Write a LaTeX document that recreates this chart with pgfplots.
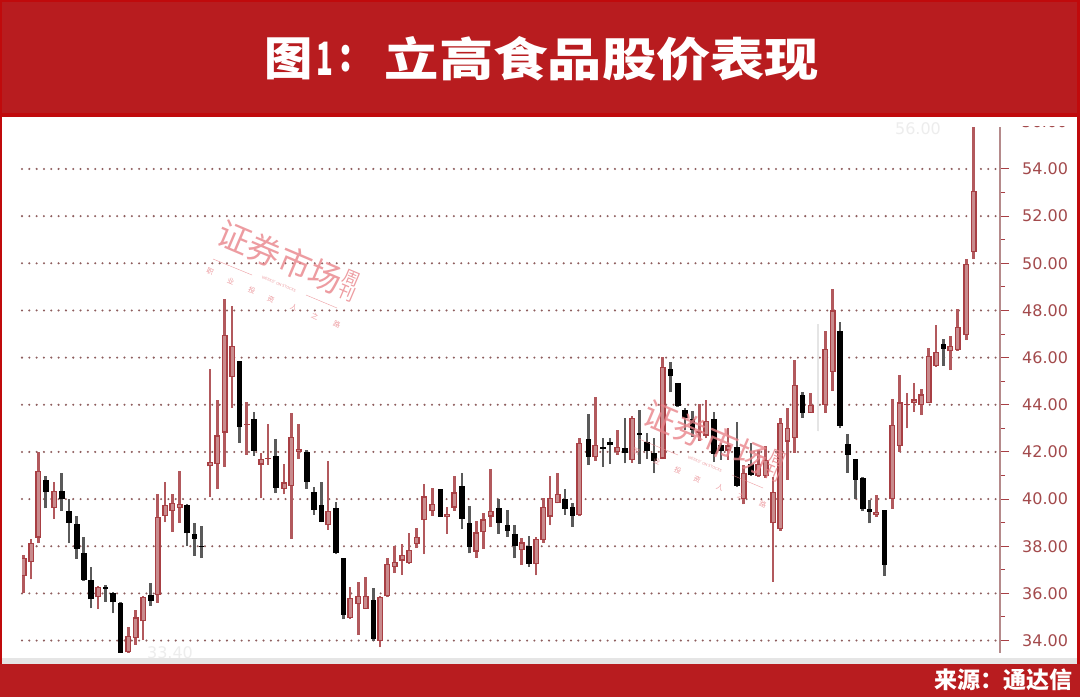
\documentclass[border=0pt]{standalone}
\usepackage{fontspec}
\usepackage{pgfplots}
\usepackage{pgfplotstable}
\pgfplotsset{compat=1.18}
\setmainfont{DejaVu Sans}
\newfontfamily\cjk{Noto Sans CJK SC}
\newfontfamily\cjkblack{Noto Sans CJK SC Black}

\definecolor{band}{HTML}{B81C1F}
\definecolor{bandedge}{HTML}{C00A0C}
\definecolor{upedge}{HTML}{A83F44}
\definecolor{upfill}{HTML}{C98B8D}
\definecolor{upwick}{HTML}{B2595D}
\definecolor{downwick}{HTML}{5A5A5A}
\definecolor{griddot}{HTML}{8E5E5E}
\definecolor{axisline}{HTML}{B58A8B}
\definecolor{ticktext}{HTML}{A34A4C}
\definecolor{stamp}{HTML}{E9848A}

% x is the horizontal position of the candle in reference pixels
\pgfplotstableread{
x open high low close
23.7 36.75 37.63 36.00 37.52
31.0 37.33 38.30 36.60 38.15
38.3 38.37 42.00 38.13 41.18
54.0 39.62 40.73 39.17 40.33
98.0 35.83 36.33 35.33 36.28
128.3 33.50 34.59 33.49 34.21
135.7 34.10 35.30 33.82 34.98
143.0 34.81 35.87 34.03 35.84
157.7 35.94 40.20 35.61 39.24
165.0 39.29 40.73 39.02 39.74
172.3 39.50 40.20 38.62 39.85
179.7 39.62 41.18 39.00 39.80
210.0 41.39 45.50 40.10 41.56
217.3 41.50 44.20 40.42 42.70
224.7 42.82 48.47 41.38 46.96
232.0 45.18 48.20 43.88 46.48
246.7 43.16 44.10 41.89 43.20
261.0 41.46 41.97 40.03 41.69
268.0 41.72 43.17 41.45 41.75
284.0 40.43 41.49 40.20 40.71
291.3 40.56 43.67 38.31 42.65
298.7 41.99 43.19 41.70 42.13
328.0 38.90 41.62 38.69 39.51
350.0 34.95 36.26 34.93 35.80
358.3 35.55 36.47 34.24 35.89
365.7 35.34 36.69 35.33 35.89
380.0 33.99 35.87 33.72 35.85
387.3 35.87 37.49 35.84 37.24
394.7 37.11 38.01 36.86 37.35
402.0 37.39 38.08 36.80 37.62
409.0 37.28 38.58 37.25 37.84
416.7 38.10 38.79 37.92 38.38
424.0 39.12 40.63 37.67 40.11
432.3 39.48 40.49 39.29 39.80
447.0 39.26 39.68 38.52 39.37
454.3 39.64 41.00 39.51 40.28
476.3 37.77 39.07 37.51 38.59
483.3 38.59 39.43 37.89 39.14
490.7 39.26 41.28 38.81 39.51
521.7 37.84 38.34 37.21 38.16
536.0 37.24 38.38 36.76 38.30
543.3 38.27 40.04 38.13 39.68
550.0 39.26 41.00 38.90 40.06
557.7 39.82 41.12 39.82 40.22
579.3 39.33 42.58 39.30 42.40
595.3 41.77 44.32 41.63 42.31
617.3 42.01 42.93 41.87 42.23
632.0 41.66 43.53 41.55 43.43
662.7 41.72 46.01 41.69 45.62
699.3 42.82 44.04 42.47 42.88
706.0 42.69 44.20 42.58 43.30
728.0 42.06 43.00 41.66 42.28
743.7 40.00 41.45 39.78 41.10
758.3 40.98 42.08 40.93 41.49
765.7 40.98 42.25 40.91 41.66
773.0 38.98 40.95 36.50 40.32
780.3 38.72 43.43 38.65 43.24
787.5 42.44 43.88 40.81 43.02
794.7 42.57 45.89 41.96 44.83
810.7 43.66 44.48 43.66 44.01
825.3 43.99 47.12 43.66 46.37
832.7 45.40 48.93 44.58 48.00
876.3 39.32 40.17 39.25 39.46
892.3 40.00 44.24 39.60 43.14
899.7 42.26 45.26 42.01 44.10
907.0 43.99 44.48 43.00 44.04
914.0 44.08 44.93 43.70 44.23
921.3 43.99 44.69 43.56 44.44
928.7 44.08 46.39 44.06 46.06
936.0 45.64 47.38 45.61 46.25
950.3 46.26 46.91 45.47 46.49
957.7 46.32 48.08 46.29 47.31
966.3 46.95 50.18 46.74 49.99
973.7 50.46 55.78 50.18 53.07
}\upcandles

\pgfplotstableread{
x open high low close
45.7 40.80 40.99 39.61 40.28
61.7 40.33 41.12 39.50 40.00
69.0 39.51 40.00 38.13 38.99
76.7 38.96 39.28 37.48 37.90
83.7 37.72 38.41 36.53 36.57
91.0 36.57 37.11 35.37 35.75
105.3 36.26 36.37 35.65 36.18
113.0 36.03 36.04 35.16 35.62
120.3 35.61 35.62 33.49 33.49
150.7 35.94 36.43 35.48 35.68
187.0 39.77 39.80 37.99 38.55
194.3 38.52 38.98 37.60 38.30
201.3 38.03 38.86 37.50 37.97
239.3 45.84 45.86 42.40 43.05
254.0 43.39 43.71 41.83 42.04
275.7 41.83 42.54 40.25 40.46
306.7 42.01 42.08 40.43 40.74
314.0 40.28 40.53 39.33 39.54
321.3 39.74 40.74 39.02 39.03
336.0 39.61 39.89 37.67 37.70
343.3 37.49 37.50 34.90 35.09
373.3 35.72 36.25 34.00 34.06
440.3 40.42 40.42 39.26 39.26
462.0 40.57 41.12 38.73 39.16
469.3 38.98 39.72 37.70 37.96
498.7 39.61 40.01 38.52 39.00
507.3 38.90 39.54 38.41 38.66
514.7 38.52 38.90 37.49 38.01
529.0 38.01 38.45 37.14 37.25
565.0 39.99 40.42 39.33 39.57
572.3 39.68 39.82 38.83 39.30
588.3 42.54 43.61 41.45 41.80
603.0 42.20 42.58 41.38 42.13
610.0 42.42 42.58 41.49 42.28
625.0 42.18 43.46 41.52 41.97
639.3 42.79 43.78 41.49 42.72
647.0 42.42 42.79 41.69 42.06
654.0 41.94 42.58 41.10 41.63
670.3 45.51 45.80 44.53 45.22
677.7 44.91 44.91 43.92 43.95
685.0 43.78 43.85 42.93 43.43
692.3 43.39 43.75 42.65 42.93
714.0 43.39 43.71 41.59 41.92
721.0 42.28 42.37 41.66 42.06
737.0 42.23 43.29 40.53 40.56
751.0 41.50 42.37 40.98 41.02
802.3 44.41 44.55 43.45 43.67
840.0 47.12 47.49 43.00 43.11
847.7 42.32 42.78 41.12 41.87
855.3 41.70 41.72 40.00 40.83
862.7 40.90 40.95 39.49 39.60
869.3 39.58 39.96 38.97 39.46
884.3 39.53 39.53 36.75 37.20
943.3 46.56 46.77 45.65 46.36
}\downcandles

% the pale ghost candle beside the 44 level
\pgfplotstableread{
x open high low close
818.0 44.00 47.41 42.88 44.00
}\ghostcandle

\pgfplotsset{
  wickbar/.style 2 args={only marks, mark=*, mark size=0pt,
    mark options={draw=none, fill=none}, forget plot,
    error bars/.cd, y dir=plus, y explicit, error mark=none,
    error bar style={solid, line cap=butt, color=#1, line width=#2}},
}

% stamp drawn twice over the chart
\newcommand{\stampmark}{%
  \begin{scope}[stamp, opacity=.8]
    \node[rotate=-23, font=\cjk\fontsize{33}{33}\selectfont, inner sep=0pt] at (280,257) {证券市场};
    \node[rotate=-23, font=\cjk\fontsize{17}{17}\selectfont, inner sep=0pt] at (352,278) {周};
    \node[rotate=-23, font=\cjk\fontsize{17}{17}\selectfont, inner sep=0pt] at (347,293) {刊};
    \draw[line width=.4pt] (213,259) -- (252,275);
    \draw[line width=.4pt] (306,295) -- (337,308);
    \node[rotate=-23, font=\fontsize{3.6}{4}\selectfont, inner sep=0pt] at (279,284) {WEEKLY ON STOCKS};
    \foreach \ch/\cx/\cy in {职/210/272, 业/231/281, 投/252/290, 资/271/299, 人/294/307, 之/315/316, 路/337/324}
      \node[rotate=-23, font=\cjk\fontsize{7}{7}\selectfont, inner sep=0pt] at (\cx,\cy) {\ch};
  \end{scope}}

\begin{document}
\begin{tikzpicture}
\fill[white] (0pt,0pt) rectangle (1080pt,697pt);

\begin{axis}[
    at={(22pt,44.4pt)}, anchor=south west,
    scale only axis,
    width=978pt, height=525.6pt,
    xmin=22, xmax=1000,
    ymin=33.49, ymax=55.78,
    axis x line=none,
    axis y line*=right,
    xtick=\empty,
    ytick={34,36,38,40,42,44,46,48,50,52,54},
    minor y tick num=1,
    tick align=outside,
    major tick length=9pt,
    minor tick length=5pt,
    every tick/.style={color=upedge, line width=1pt},
    y axis line style={-, color=axisline, line width=1.6pt},
    ymajorgrids=true,
    grid style={griddot, line width=2.3pt, line cap=round, dash pattern=on 0pt off 7.32pt},
    /pgf/number format/assume math mode=true,
    yticklabel style={/pgf/number format/fixed, /pgf/number format/zerofill,
      /pgf/number format/precision=2, color=ticktext, inner sep=0pt,
      font=\fontsize{16}{16}\selectfont, xshift=13pt},
]
% ghost
\addplot[wickbar={black!10}{1.4pt}] table[x=x, y expr=\thisrow{low}, y error plus expr={\thisrow{high}-\thisrow{low}}] {\ghostcandle};
% wicks
\addplot[wickbar={upwick}{2.6pt}] table[x=x, y expr=\thisrow{low}, y error plus expr={\thisrow{high}-\thisrow{low}}] {\upcandles};
\addplot[wickbar={downwick}{2.6pt}] table[x=x, y expr=\thisrow{low}, y error plus expr={\thisrow{high}-\thisrow{low}}] {\downcandles};
% bodies
\addplot[wickbar={upedge}{5.8pt}] table[x=x, y expr=\thisrow{open}, y error plus expr={\thisrow{close}-\thisrow{open}}] {\upcandles};
\addplot[wickbar={upfill}{3pt}] table[x=x, y expr={\thisrow{open}+0.05}, y error plus expr={max(\thisrow{close}-\thisrow{open}-0.10,0)}] {\upcandles};
\addplot[wickbar={black}{5.6pt}] table[x=x, y expr=\thisrow{close}, y error plus expr={\thisrow{open}-\thisrow{close}}] {\downcandles};
\end{axis}

\begin{scope}[x=1pt, y=-1pt, yshift=697pt]
  % faint leftovers of the screenshot
  \node[black!7, font=\fontsize{16}{16}\selectfont, inner sep=0pt] at (918,129) {56.00};
  \node[black!7, font=\fontsize{16}{16}\selectfont, inner sep=0pt] at (170,653) {33.40};
  \fill[black!10] (2,658) rectangle (1077,665);

  \stampmark
  \begin{scope}[xshift=426pt, yshift=-180pt]
    \stampmark
  \end{scope}

  % clipped top label
  \node[ticktext, font=\fontsize{16}{16}\selectfont, inner sep=0pt] at (1044.5,122) {56.00};
  \fill[white] (1005,115) rectangle (1077,126);

  % title band and footer
  \fill[band] (0,0) rectangle (1080,115);
  \fill[bandedge] (0,0) rectangle (1080,2);
  \fill[bandedge] (0,113) rectangle (1080,117);
  \fill[bandedge] (0,0) rectangle (2,697);
  \fill[bandedge] (1077,0) rectangle (1080,697);
  \fill[band] (0,664) rectangle (1080,697);
  \node[white, font=\cjkblack\fontsize{46}{46}\selectfont, xscale=1.05, inner sep=0pt] at (289,59) {图};
  \node[white, font=\cjkblack\fontsize{46}{46}\selectfont, xscale=.6, inner sep=0pt] at (325,59) {1};
  \node[white, font=\cjkblack\fontsize{46}{46}\selectfont, xscale=.8, inner sep=0pt] at (346,59) {:};
  \node[white, font=\cjkblack\fontsize{46}{46}\selectfont, xscale=1.18, inner sep=0pt] at (602,59) {立高食品股价表现};
  \node[white, anchor=east, font=\cjk\bfseries\fontsize{23}{23}\selectfont, inner sep=0pt] at (1073,680) {来源：通达信};
\end{scope}
\end{tikzpicture}
\end{document}
